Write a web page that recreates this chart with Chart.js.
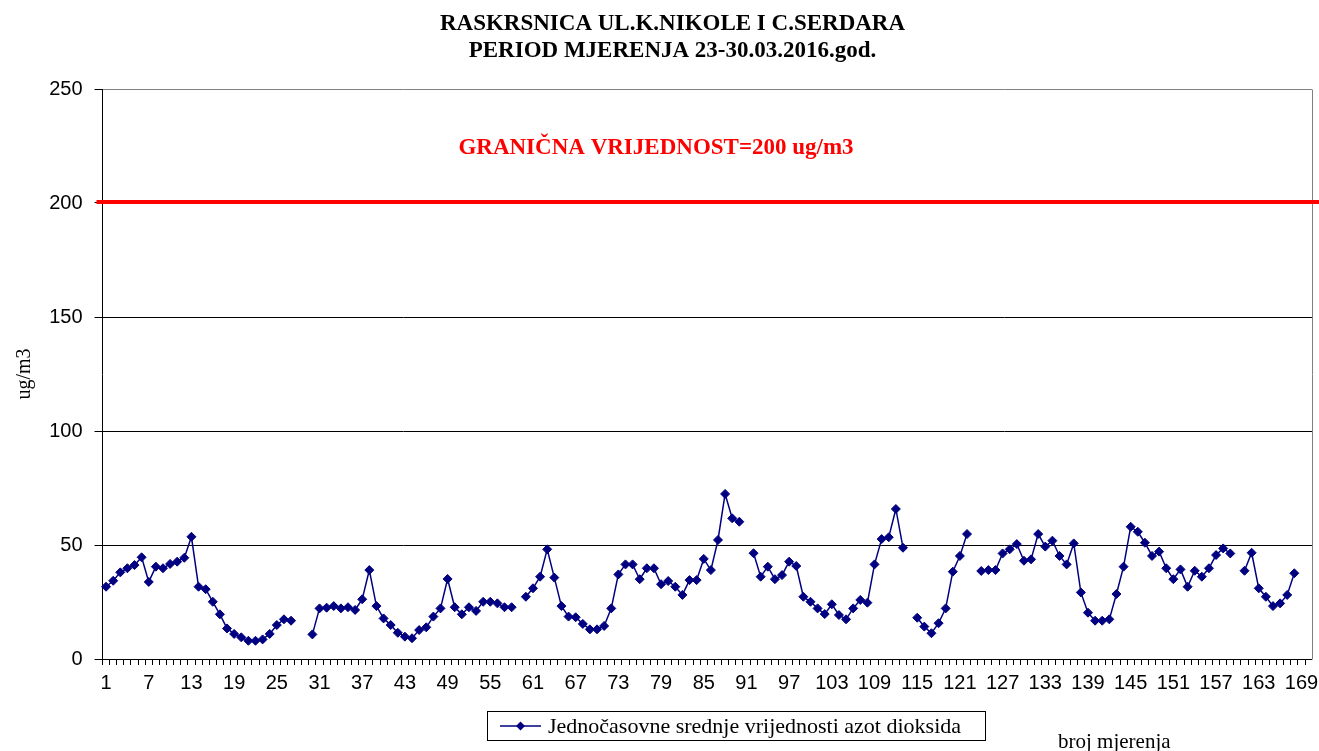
<!DOCTYPE html>
<html>
<head>
<meta charset="utf-8">
<script src="https://cdn.jsdelivr.net/npm/chart.js@4.4.0/dist/chart.umd.min.js"></script>
<style>
	html, body { margin: 0; padding: 0; background: #fff; }
</style>
</head>
<body>
<canvas id="chart" width="1319" height="751"></canvas>
<script>
const titleLines = [ 'RASKRSNICA UL.K.NIKOLE I C.SERDARA', 'PERIOD MJERENJA 23-30.03.2016.god.' ];
const seriesLabel = 'Jednočasovne srednje vrijednosti azot dioksida';
const yTitle = 'ug/m3';
const xTitle = 'broj mjerenja';
const limitValue = 200;
const limitLabel = 'GRANIČNA VRIJEDNOST=200 ug/m3';
const yTicks = [ 0, 50, 100, 150, 200, 250 ];

const no2Values = [
	31.7, 34.3, 38, 39.8, 41.2, 44.6, 33.8, 40.5, 39.8, 41.7,
	42.7, 44.4, 53.6, 31.7, 30.6, 25.1, 19.6, 13.4, 11, 9.5,
	8, 8, 8.6, 11, 14.9, 17.4, 16.8, null, null, 10.8,
	22.2, 22.5, 23.2, 22.2, 22.7, 21.5, 26.2, 39, 23.2, 17.8,
	14.9, 11.5, 9.8, 9.1, 12.7, 13.9, 18.6, 22.2, 35.1, 22.7,
	19.6, 22.7, 21.1, 25.1, 25.1, 24.4, 22.7, 22.7, null, 27.3,
	31, 36.1, 48.1, 35.7, 23.2, 18.6, 18.3, 15.4, 13, 13,
	14.5, 22.2, 37.1, 41.5, 41.5, 35, 39.8, 39.8, 32.8, 34.2,
	31.7, 28.1, 34.6, 34.6, 43.9, 39, 52.2, 72.4, 61.7, 60.2,
	null, 46.4, 36.1, 40.5, 35, 36.8, 42.7, 40.8, 27.3, 25.1,
	22.2, 19.7, 24, 19.3, 17.4, 22.2, 25.9, 24.7, 41.5, 52.6,
	53.4, 65.8, 48.8, null, 18.1, 14.2, 11.3, 15.7, 22.2, 38.3,
	45.2, 54.8, null, 38.6, 39, 39, 46.3, 48.1, 50.4, 43.1,
	43.7, 54.8, 49.3, 51.9, 45.2, 41.5, 50.7, 29.2, 20.3, 16.8,
	16.8, 17.4, 28.5, 40.5, 58, 55.8, 51, 45.2, 47.1, 39.8,
	35, 39.3, 31.7, 38.7, 36.1, 39.8, 45.6, 48.5, 46.3, null,
	38.7, 46.6, 31, 27.3, 23.2, 24.4, 28.1, 37.6, null,
];
const measurementNo = no2Values.map( ( v, i ) => String( i + 1 ) );

const NAVY = '#000080';
const SERIF = '"Liberation Serif", "Times New Roman", serif';
const SANS = '"Liberation Sans", Arial, sans-serif';

const align = ( p ) => Math.round( p - 0.5 ) + 0.5;

// limit line, its caption, plot frame, boxed legend and axis caption
const extras = {
	id: 'extras',
	afterDraw( chart ) {
		const { ctx, chartArea: a } = chart;
		const y = chart.scales.y;
		ctx.save();

		// plot area continues a little past the last category
		ctx.lineWidth = 1;
		yTicks.forEach( ( v ) => {
			const py = align( y.getPixelForValue( v ) );
			ctx.strokeStyle = v === 250 ? '#808080' : '#000';
			ctx.beginPath();
			ctx.moveTo( a.right, py );
			ctx.lineTo( a.right + 7, py );
			ctx.stroke();
		} );
		ctx.strokeStyle = '#808080';
		ctx.beginPath();
		ctx.moveTo( align( a.right + 7 ), align( a.top ) );
		ctx.lineTo( align( a.right + 7 ), align( a.bottom ) );
		ctx.stroke();

		// limit value
		const ly = y.getPixelForValue( limitValue ) - 1;
		ctx.strokeStyle = '#ff0000';
		ctx.lineWidth = 4;
		ctx.beginPath();
		ctx.moveTo( a.left - 6, ly );
		ctx.lineTo( 1319, ly );
		ctx.stroke();

		ctx.fillStyle = '#ff0000';
		ctx.font = `bold 23px ${ SERIF }`;
		ctx.textAlign = 'center';
		ctx.textBaseline = 'middle';
		ctx.fillText( limitLabel, 656, y.getPixelForValue( 224 ) );

		// legend
		ctx.strokeStyle = '#000';
		ctx.lineWidth = 1;
		ctx.strokeRect( 487.5, 711.5, 498, 29 );
		ctx.strokeStyle = NAVY;
		ctx.lineWidth = 1.5;
		ctx.beginPath();
		ctx.moveTo( 500, 726 );
		ctx.lineTo( 541, 726 );
		ctx.stroke();
		ctx.fillStyle = NAVY;
		ctx.beginPath();
		ctx.moveTo( 520.5, 721.5 );
		ctx.lineTo( 525, 726 );
		ctx.lineTo( 520.5, 730.5 );
		ctx.lineTo( 516, 726 );
		ctx.closePath();
		ctx.fill();
		ctx.fillStyle = '#000';
		ctx.font = `22px ${ SERIF }`;
		ctx.textAlign = 'left';
		ctx.fillText( chart.data.datasets[ 0 ].label, 548, 727 );

		ctx.font = `21px ${ SERIF }`;
		ctx.fillText( xTitle, 1058, 742 );
		ctx.restore();
	},
};

const ctx = document.getElementById( 'chart' ).getContext( '2d' );
new Chart( ctx, {
	type: 'line',
	data: {
		labels: measurementNo,
		datasets: [
			{
				label: seriesLabel,
				data: no2Values,
				borderColor: NAVY,
				backgroundColor: NAVY,
				borderWidth: 1.5,
				tension: 0,
				spanGaps: false,
				pointStyle: 'rectRot',
				pointRadius: 4.5,
				pointBorderWidth: 1,
				pointBackgroundColor: NAVY,
				pointBorderColor: NAVY,
			},
		],
	},
	options: {
		responsive: false,
		animation: false,
		layout: {
			padding: { left: 40, right: 14, top: 0, bottom: 32 },
		},
		plugins: {
			legend: { display: false },
			tooltip: { enabled: false },
			title: {
				display: true,
				text: titleLines,
				color: '#000',
				font: { family: SERIF, size: 23, weight: 'bold', lineHeight: 1.2 },
				padding: { top: 10, bottom: 23.8 },
			},
		},
		scales: {
			x: {
				type: 'category',
				offset: true,
				grid: {
					offset: true,
					drawOnChartArea: false,
					drawTicks: true,
					tickLength: 6,
					tickColor: '#000',
				},
				border: { color: '#000', width: 1 },
				ticks: {
					autoSkip: false,
					maxRotation: 0,
					minRotation: 0,
					padding: 6,
					color: '#000',
					font: { family: SANS, size: 20 },
					callback( value, index ) {
						return index % 6 === 0 ? this.getLabelForValue( value ) : '';
					},
				},
				afterFit( scale ) {
					scale.height = 60;
					scale.paddingLeft = 0;
					scale.paddingRight = 0;
				},
			},
			y: {
				min: 0,
				max: 250,
				afterBuildTicks( scale ) {
					scale.ticks = yTicks.map( ( v ) => ( { value: v } ) );
				},
				grid: {
					color: ( c ) => ( c.tick && c.tick.value === 250 ? '#808080' : '#000' ),
					tickColor: '#000',
					tickLength: 8,
					lineWidth: 1,
				},
				border: { color: '#000', width: 1 },
				ticks: {
					padding: 12,
					color: '#000',
					font: { family: SANS, size: 20 },
				},
				title: {
					display: true,
					text: yTitle,
					color: '#000',
					font: { family: SERIF, size: 20 },
					padding: { top: -27, bottom: 0 },
				},
				afterFit( scale ) {
					scale.width = 62.5;
					scale.paddingTop = 0;
					scale.paddingBottom = 0;
				},
			},
		},
	},
	plugins: [ extras ],
} );
</script>
</body>
</html>
